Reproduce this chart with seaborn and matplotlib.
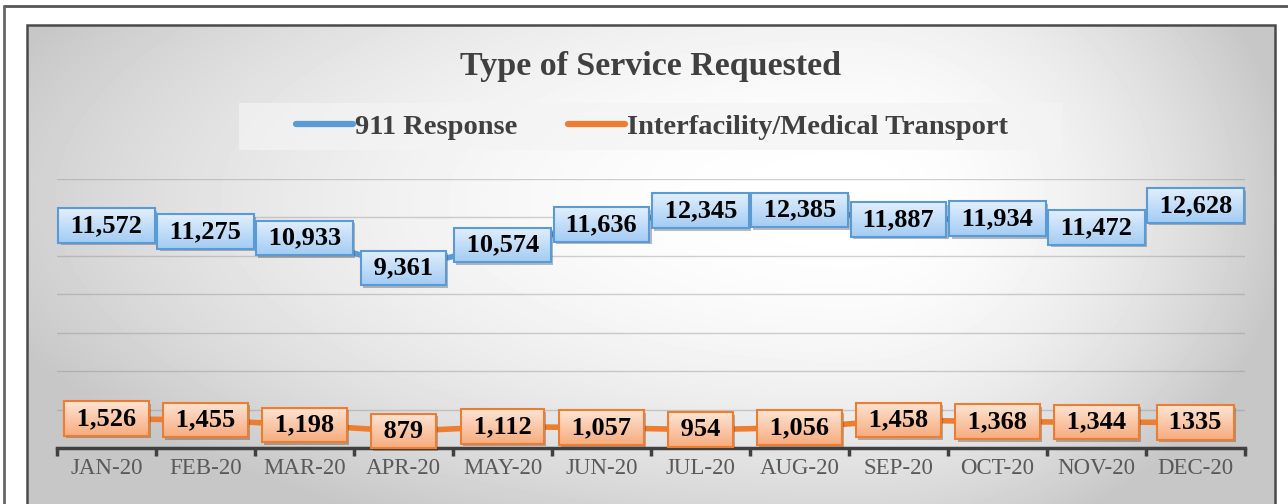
import numpy as np
import pandas as pd
import seaborn as sns
import matplotlib.pyplot as plt
import matplotlib.patheffects as pe
from matplotlib.colors import LinearSegmentedColormap
from matplotlib.lines import Line2D
from matplotlib.patches import Rectangle

months = ["JAN-20", "FEB-20", "MAR-20", "APR-20", "MAY-20", "JUN-20",
          "JUL-20", "AUG-20", "SEP-20", "OCT-20", "NOV-20", "DEC-20"]
response_911 = [11572, 11275, 10933, 9361, 10574, 11636,
                12345, 12385, 11887, 11934, 11472, 12628]
interfacility = [1526, 1455, 1198, 879, 1112, 1057,
                 954, 1056, 1458, 1368, 1344, 1335]
# data labels exactly as printed on the chart
labels_911 = ["11,572", "11,275", "10,933", "9,361", "10,574", "11,636",
              "12,345", "12,385", "11,887", "11,934", "11,472", "12,628"]
labels_inter = ["1,526", "1,455", "1,198", "879", "1,112", "1,057",
                "954", "1,056", "1,458", "1,368", "1,344", "1335"]
series_names = ["911 Response", "Interfacility/Medical Transport"]

BLUE = "#5b9bd5"
ORANGE = "#ed7d31"
SERIF = "Liberation Serif"

sns.set_theme(style="white")
plt.rcParams["font.family"] = [SERIF, "DejaVu Serif"]

W, H = 1288, 504
fig = plt.figure(figsize=(W / 100, H / 100), dpi=100, facecolor="white")

# outer frame lines
fig.add_artist(Line2D([4 / W, 1], [1 - 6 / H, 1 - 6 / H], color="#555555", lw=2))
fig.add_artist(Line2D([4 / W, 4 / W], [0, 1 - 6 / H], color="#666666", lw=2))

# chart area with radial-ish gradient
x0, x1, y0, y1 = 27, 1275, 25, 504
bg = fig.add_axes([x0 / W, 1 - y1 / H, (x1 - x0) / W, (y1 - y0) / H], zorder=-2)
X, Y = np.meshgrid(np.arange(x0, x1), np.arange(y0, y1))
cx, cy = 850, 200
u = np.where(X < cx, (cx - X) / 950, (X - cx) / 460)
v = np.abs(Y - cy) / 380
grad = np.clip(1 - 0.24 * (u ** 2 + v ** 2), 0.78, 1)
bg.imshow(grad, cmap="gray", vmin=0, vmax=1, aspect="auto", interpolation="bilinear")
bg.axis("off")
fig.add_artist(Rectangle((x0 / W, 1 - y1 / H - 0.01), (x1 - x0) / W, (y1 - y0) / H + 0.01,
                         transform=fig.transFigure, fill=False, ec="#4a4a4a", lw=1.8))

# legend band
fig.add_artist(Rectangle((239 / W, 1 - 150 / H), (1062 - 239) / W, 47 / H,
                         transform=fig.transFigure, fc="#f4f4f4", alpha=0.7, ec="none"))

ax = fig.add_axes([57 / W, 1 - 448 / H, (1245 - 57) / W, (448 - 179) / H])
ax.set_facecolor("none")

df = pd.DataFrame({
    "month": months * 2,
    "count": response_911 + interfacility,
    "service": [series_names[0]] * 12 + [series_names[1]] * 12,
})
sns.lineplot(data=df, x="month", y="count", hue="service", palette=[BLUE, ORANGE],
             lw=4, sort=False, legend=False, ax=ax, zorder=3)

ax.set_xlim(-0.5, 11.5)
ax.set_ylim(0, 14000)
ax.set_yticks(range(2000, 16000, 2000))
ax.grid(axis="y", color="#8c8c8c", alpha=0.4, lw=1)
ax.tick_params(axis="y", length=0, labelleft=False)
ax.set_xlabel("")
ax.set_ylabel("")
for s in ["left", "right", "top"]:
    ax.spines[s].set_visible(False)
ax.spines["bottom"].set_color("#404040")
ax.spines["bottom"].set_linewidth(2.5)
ax.set_xticks(range(12))
ax.set_xticklabels(months, fontsize=16.5, color="#595959", family=SERIF)
ax.set_xticks(np.arange(-0.5, 12, 1), minor=True)
ax.tick_params(axis="x", which="major", length=0, pad=7)
ax.tick_params(axis="x", which="minor", bottom=True, length=6, width=2.5,
               color="#404040", direction="out")

# data labels: shadowed base box, gradient fill, then outlined text on top
label_kw = dict(ha="center", va="center", fontsize=19, fontweight="bold", family=SERIF)
box = "square,pad=0.22"
bases = []


def add_labels(values, texts, top, bottom, ec):
    cmap = LinearSegmentedColormap.from_list("box", [bottom, top])
    for i, (val, txt) in enumerate(zip(values, texts)):
        s = " " + txt + " "
        base = ax.text(i, val, s, color="none", zorder=4,
                       bbox=dict(boxstyle=box, fc=bottom, ec="none"), **label_kw)
        base.get_bbox_patch().set_path_effects([
            pe.SimplePatchShadow(offset=(1.5, -1.8), alpha=0.35), pe.Normal()])
        ax.text(i, val, s, color="black", zorder=6,
                bbox=dict(boxstyle=box, fc="none", ec=ec, lw=1.5), **label_kw)
        bases.append((base, cmap))


add_labels(response_911, labels_911, "#e2effc", "#a3ccf4", BLUE)
add_labels(interfacility, labels_inter, "#fde4d4", "#f7ac7e", ORANGE)

fig.canvas.draw()
inv = ax.transData.inverted()
ramp = np.linspace(0, 1, 64).reshape(-1, 1)
for base, cmap in bases:
    ext = base.get_bbox_patch().get_window_extent()
    (xa, ya), (xb, yb) = inv.transform([[ext.x0, ext.y0], [ext.x1, ext.y1]])
    ax.imshow(ramp, cmap=cmap, extent=[xa, xb, ya, yb], origin="lower",
              aspect="auto", interpolation="bilinear", zorder=5)
ax.set_xlim(-0.5, 11.5)
ax.set_ylim(0, 14000)

fig.text(650 / W, 1 - 67 / H, "Type of Service Requested", ha="center", va="center",
         fontsize=24.5, fontweight="bold", color="#404040", family=SERIF)

handles = [Line2D([], [], color=BLUE, lw=4.5, solid_capstyle="round"),
           Line2D([], [], color=ORANGE, lw=4.5, solid_capstyle="round")]
fig.legend(handles, series_names, loc="center", bbox_to_anchor=(652 / W, 1 - 127 / H),
           ncol=2, frameon=False, handlelength=2.0, handletextpad=0.08, columnspacing=1.75,
           labelcolor="#404040", prop=dict(family=SERIF, weight="bold", size=20.5))

fig.savefig("out.png", dpi=100, facecolor="white")
